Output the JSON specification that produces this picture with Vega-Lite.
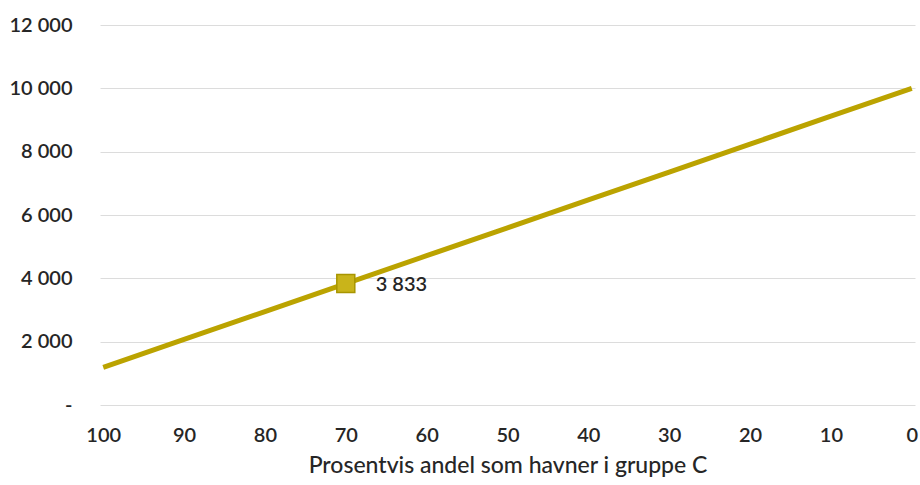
{
  "$schema": "https://vega.github.io/schema/vega-lite/v6.json",
  "width": 815,
  "height": 380,
  "autosize": {"type": "none"},
  "padding": {"left": 100, "top": 25, "right": 5, "bottom": 80},
  "background": "white",
  "config": {
    "view": {"stroke": null},
    "font": "Lato",
    "axis": {"labelFont": "Lato", "titleFont": "Lato"},
    "locale": {
      "number": {"decimal": ",", "thousands": " ", "grouping": [3], "currency": ["", " kr"]}
    }
  },
  "data": {
    "values": [
      {"andel": 100, "verdi": 1190},
      {"andel": 90, "verdi": 2071},
      {"andel": 80, "verdi": 2952},
      {"andel": 70, "verdi": 3833},
      {"andel": 60, "verdi": 4714},
      {"andel": 50, "verdi": 5595},
      {"andel": 40, "verdi": 6476},
      {"andel": 30, "verdi": 7357},
      {"andel": 20, "verdi": 8238},
      {"andel": 10, "verdi": 9119},
      {"andel": 0, "verdi": 10000}
    ]
  },
  "encoding": {
    "x": {
      "field": "andel",
      "type": "quantitative",
      "scale": {"domain": [100.4, -0.4], "nice": false, "zero": false},
      "axis": {
        "values": [100, 90, 80, 70, 60, 50, 40, 30, 20, 10, 0],
        "title": "Prosentvis andel som havner i gruppe C",
        "titleFontSize": 23,
        "titleFontWeight": 500,
        "titleColor": "#262626",
        "titlePadding": 9,
        "labelFontSize": 20,
        "labelFontWeight": 600,
        "labelColor": "#262626",
        "labelPadding": 20,
        "ticks": false,
        "domain": false,
        "grid": false
      }
    },
    "y": {
      "field": "verdi",
      "type": "quantitative",
      "scale": {"domain": [0, 12000], "nice": false},
      "axis": {
        "values": [0, 2000, 4000, 6000, 8000, 10000, 12000],
        "title": null,
        "labelExpr": "datum.value == 0 ? '-' : format(datum.value, ',')",
        "labelFontSize": 20,
        "labelFontWeight": 600,
        "labelColor": "#262626",
        "labelPadding": 28,
        "ticks": false,
        "domain": false,
        "grid": true,
        "gridColor": "#dcdcdc",
        "gridWidth": 1
      }
    }
  },
  "layer": [
    {
      "mark": {"type": "line", "color": "#BBA300", "strokeWidth": 5}
    },
    {
      "transform": [{"filter": "datum.andel == 70"}],
      "mark": {"type": "square", "size": 324, "color": "#C9B41A", "filled": true, "stroke": "#A89500", "strokeWidth": 1.5, "opacity": 1}
    },
    {
      "transform": [{"filter": "datum.andel == 70"}],
      "mark": {"type": "text", "align": "left", "baseline": "middle", "dx": 30, "dy": 1, "fontSize": 20, "fontWeight": 600, "color": "#262626"},
      "encoding": {
        "text": {"field": "verdi", "type": "quantitative", "format": ","}
      }
    }
  ]
}
